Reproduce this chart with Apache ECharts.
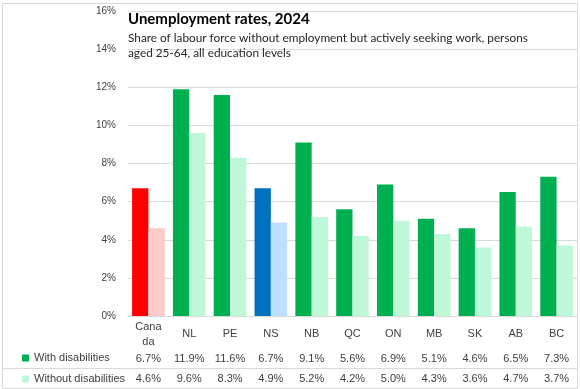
<!DOCTYPE html>
<html><head><meta charset="utf-8">
<script src="https://cdn.jsdelivr.net/npm/echarts@6/dist/echarts.min.js"></script>
<style>html,body{margin:0;padding:0;background:#fff}#c{width:580px;height:389px}</style>
</head><body><div id="c"></div>
<script>
const categories = ['Canada','NL','PE','NS','NB','QC','ON','MB','SK','AB','BC'];
const withDis = [6.7,11.9,11.6,6.7,9.1,5.6,6.9,5.1,4.6,6.5,7.3];
const withoutDis = [4.6,9.6,8.3,4.9,5.2,4.2,5.0,4.3,3.6,4.7,3.7];
const yTicks = [0,2,4,6,8,10,12,14,16];

const GREEN='#00B050', MINT='#BFF8D8';
const special = {Canada:['#FF0000','#FFCACA'], NS:['#0070C0','#BEDFFF']};

function mk(vals, idx){
  return vals.map((v,i)=>{
    const s = special[categories[i]];
    return s ? {value:v, itemStyle:{color:s[idx]}} : {value:v};
  });
}
const chart = echarts.init(document.getElementById('c'), null, {renderer:'canvas'});
const FONT = 'Liberation Sans';
chart.setOption({
  animation:false,
  title:{
    text:'Unemployment rates, 2024',
    subtext:'Share of labour force without employment but actively seeking work, persons\naged 25-64, all education levels',
    left:128, top:10, padding:0, itemGap:3,
    textStyle:{fontFamily:'Lato', fontSize:15, fontWeight:'bold', color:'#000', lineHeight:18},
    subtextStyle:{fontFamily:'Lato', fontSize:11.8, color:'#262626', lineHeight:15}
  },
  legend:{
    orient:'vertical', left:22, top:351, itemWidth:7, itemHeight:7, itemGap:7, padding:0,
    icon:'rect', selectedMode:false,
    textStyle:{fontFamily:FONT, fontSize:11, color:'#404040', lineHeight:14}
  },
  grid:{left:128, right:3, top:11, bottom:73, containLabel:false},
  xAxis:{
    type:'category', data:categories,
    axisLine:{lineStyle:{color:'#d9d9d9'}},
    axisTick:{length:72, lineStyle:{color:'#d9d9d9'}},
    axisLabel:{
      interval:0, margin:3,
      formatter:(name, i)=>{
        const disp = name.length>4 ? name.slice(0,4)+'\n'+name.slice(4) : name;
        const tag = name.length>4 ? 'n2' : 'n1';
        return '{'+tag+'|'+disp+'}\n{v|'+withDis[i].toFixed(1)+'%}\n{v|'+withoutDis[i].toFixed(1)+'%}';
      },
      rich:{
        n1:{fontFamily:FONT,fontSize:11,color:'#404040',lineHeight:30},
        n2:{fontFamily:FONT,fontSize:11,color:'#404040',lineHeight:15},
        v:{fontFamily:FONT,fontSize:11,color:'#404040',lineHeight:20}
      }
    }
  },
  yAxis:{
    type:'value', min:yTicks[0], max:yTicks[yTicks.length-1], interval:2,
    axisLine:{show:false}, axisTick:{show:false},
    axisLabel:{formatter:'{value}%', fontFamily:FONT, fontSize:10, color:'#404040', margin:12},
    splitLine:{lineStyle:{color:'#d9d9d9'}}
  },
  series:[
    {name:'With disabilities', type:'bar', data:mk(withDis,0), itemStyle:{color:GREEN}, barGap:'0%', barCategoryGap:'20%'},
    {name:'Without disabilities', type:'bar', data:mk(withoutDis,1), itemStyle:{color:MINT}, barGap:'0%', barCategoryGap:'20%'}
  ],
  graphic:[
    {type:'rect', shape:{x:2.5,y:3.5,width:575,height:385}, style:{fill:'none', stroke:'#d9d9d9', lineWidth:1}, silent:true, z:-1},
    {type:'line', shape:{x1:3,y1:368.5,x2:577,y2:368.5}, style:{stroke:'#d9d9d9', lineWidth:1}, silent:true}
  ]
});
</script></body></html>
